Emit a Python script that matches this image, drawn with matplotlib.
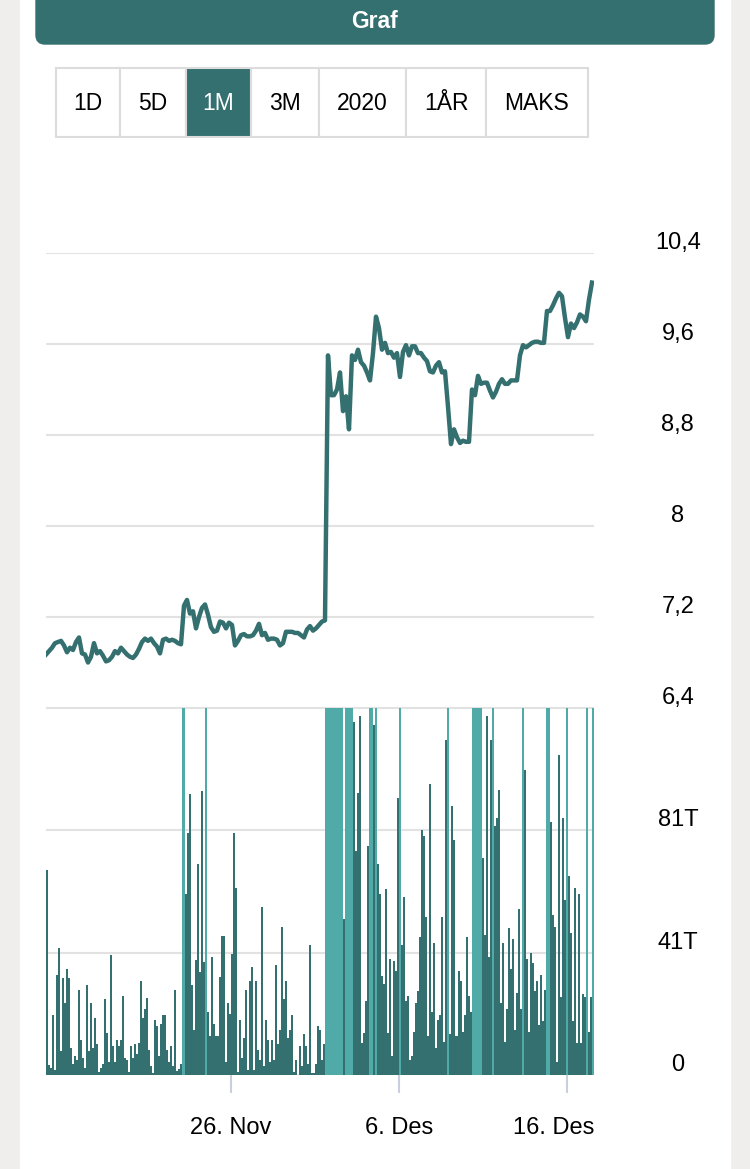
import matplotlib.pyplot as plt
from matplotlib.patches import Rectangle, FancyBboxPatch
from matplotlib import transforms
import numpy as np
import pandas as pd

plt.rcParams['font.family'] = ['Liberation Sans', 'DejaVu Sans']

dark = "#33706f"
light = "#4faaa8"
grid_col = "#e2e2e2"

periods = ["1D", "5D", "1M", "3M", "2020", "1ÅR", "MAKS"]
selected = "1M"

start = pd.Timestamp("2020-11-15")
span_days = 32.62     # visible range
price_days = 32.5     # first to last quote

prices = [
    6.87, 6.90, 6.93, 6.97, 6.98, 6.99, 6.95, 6.89, 6.93, 6.91,
    6.98, 7.02, 6.88, 6.87, 6.80, 6.85, 6.97, 6.88, 6.90, 6.86,
    6.81, 6.82, 6.85, 6.90, 6.88, 6.93, 6.90, 6.87, 6.85, 6.84,
    6.87, 6.92, 6.98, 7.01, 6.99, 7.01, 6.97, 6.94, 6.88, 7.00,
    7.01, 6.99, 7.00, 6.99, 6.97, 6.96, 7.30, 7.35, 7.23, 7.25,
    7.10, 7.20, 7.28, 7.31, 7.22, 7.11, 7.07, 7.08, 7.16, 7.15,
    7.10, 7.15, 7.13, 6.95, 6.99, 7.04, 7.05, 7.03, 7.03, 7.04,
    7.08, 7.14, 7.04, 7.06, 7.00, 7.01, 7.01, 7.00, 6.95, 6.97,
    7.07, 7.07, 7.07, 7.06, 7.06, 7.04, 7.02, 7.09, 7.12, 7.08,
    7.10, 7.13, 7.16, 7.17, 9.50, 9.15, 9.15, 9.20, 9.35, 9.01,
    9.14, 8.85, 9.50, 9.46, 9.55, 9.44, 9.41, 9.35, 9.28, 9.52,
    9.84, 9.74, 9.55, 9.61, 9.52, 9.53, 9.48, 9.52, 9.31, 9.53,
    9.59, 9.50, 9.58, 9.58, 9.52, 9.52, 9.48, 9.45, 9.36, 9.35,
    9.41, 9.44, 9.35, 9.36, 9.05, 8.72, 8.85, 8.78, 8.73, 8.75,
    8.74, 8.74, 9.20, 9.15, 9.32, 9.25, 9.26, 9.26, 9.19, 9.13,
    9.18, 9.25, 9.29, 9.25, 9.25, 9.28, 9.28, 9.28, 9.50, 9.59,
    9.57, 9.59, 9.61, 9.62, 9.62, 9.61, 9.61, 9.89, 9.89, 9.94,
    10.00, 10.05, 10.02, 9.83, 9.66, 9.78, 9.74, 9.79, 9.86, 9.84,
    9.80, 9.99, 10.14,
]

# volume in thousands (T); bars above the axis top are drawn in the light colour
volume = [
    68, 3.3, 2.2, 19.7, 1.7, 33, 42, 7.8, 32, 23.7,
    35, 32, 8.9, 3.7, 6.3, 5, 28, 11.7, 5.6, 2.2,
    29.7, 7.8, 24, 8.9, 19, 10.3, 1.1, 2.2, 3.7, 25,
    13.9, 4.4, 39.7, 9.7, 4.4, 11.7, 9.7, 11.7, 26, 5.6,
    5, 1.1, 9.7, 5.6, 10.3,
    7, 10.5, 31, 19, 21.7, 25.5, 8.3, 3, 0.5, 18.3,
    16.3, 6.3, 17, 20, 19.7, 8.3, 4.4, 9.7, 3, 28,
    1.4, 1.9, 3.7, 150, 60, 80, 93, 29.7, 15, 38,
    70, 34, 94, 37.4, 140, 21, 13, 39, 17, 13,
    13, 32.5, 46, 46, 4.4, 23.7,
    20.3, 40, 80, 62, 1.1, 18.3, 5.6, 12.2, 28, 1.7,
    31, 35.8, 1.7, 31, 8.3, 5, 55.6, 3, 18.3, 11.7,
    4.4, 11.7, 5, 36.4, 10.3, 15, 49, 25, 31, 12.2,
    15, 19.7, 1.1, 5, 0, 9.7, 3, 13.7, 9.7, 3.7,
    43, 0.5, 0.8, 3.7, 16.3, 15,
    5, 10.3, 180, 250, 210, 190, 230, 170, 200, 160,
    150, 51.7, 170, 190, 160, 140, 117, 74, 93.5, 119,
    10.5, 13.9, 24.4, 75.8, 150, 130, 116, 140, 70, 60,
    32.8, 30, 61.7, 13.9, 38.3, 6.3, 37.8, 34.4, 91.7, 135,
    43, 59, 24.4, 26, 5, 6.3,
    14.4, 23.7, 27.8, 45.8, 81, 79, 52.4, 13, 96.3, 21,
    43.7, 8.9, 18.3, 19.7, 52.4, 11, 111, 145, 13.7, 89,
    77.8, 13, 34.4, 31, 14.4, 19.7, 45.8, 26, 21, 160,
    190, 210, 170, 150, 72, 46.4, 119, 39, 111, 140,
    82.4, 85, 94.4, 23.7, 43.7, 11,
    22, 48.6, 35, 45, 15, 27, 55, 21.7, 135, 101,
    38.3, 14.4, 40.3, 37, 27.8, 31, 16.7, 33, 17.8, 28,
    150, 160, 83.7, 53, 49, 4.4, 106, 25.8, 85, 57.8,
    130, 66, 47, 17.8, 62, 10.5, 60, 10.5, 26.7, 25.8,
    140, 14.4, 25.8, 130,
]

price_ticks = [10.4, 9.6, 8.8, 8.0, 7.2, 6.4]
price_labels = ["10,4", "9,6", "8,8", "8", "7,2", "6,4"]
vol_max = 121.5
vol_ticks = [81, 40.5, 0]
vol_labels = ["81T", "41T", "0"]
date_ticks = ["2020-11-26", "2020-12-06", "2020-12-16"]
date_labels = ["26. Nov", "6. Des", "16. Des"]


def px(x, y, w, h):
    return [x / 750, 1 - (y + h) / 1169, w / 750, h / 1169]


fig = plt.figure(figsize=(7.5, 11.69), dpi=100, facecolor="#efeeec")

# page background, header and period buttons
bg = fig.add_axes([0, 0, 1, 1])
bg.set_xlim(0, 750)
bg.set_ylim(1169, 0)
bg.axis("off")
bg.add_patch(Rectangle((20, 0), 710, 1169, color="white"))
bg.add_patch(FancyBboxPatch((36, -30), 678, 74, boxstyle="round,pad=0,rounding_size=9",
                            color=dark))
bg.text(375, 22, "Graf", color="white", fontsize=16.5, fontweight="bold",
        ha="center", va="center")

edges = [56, 120, 186, 251, 319, 406, 486, 588]
for i, p in enumerate(periods):
    x0, x1 = edges[i], edges[i + 1]
    on = p == selected
    bg.add_patch(Rectangle((x0, 68), x1 - x0, 69, facecolor=dark if on else "white",
                           edgecolor="#dcdcdc", lw=1.5))
    bg.text((x0 + x1) / 2, 103, p, color="white" if on else "black", fontsize=16.5,
            ha="center", va="center")

xlim = (start, start + pd.Timedelta(days=span_days))

# price line
ax = fig.add_axes(px(46, 253, 548, 455))
ax.patch.set_alpha(0)
times = start + pd.to_timedelta(np.linspace(0, price_days, len(prices)), unit="D")
ax.plot(times, prices, color=dark, lw=3.2, solid_joinstyle="round", zorder=3)
ax.set_xlim(*xlim)
ax.set_ylim(6.4, 10.4)
ax.set_yticks(price_ticks)
ax.yaxis.grid(True, color=grid_col, lw=1.5)
ax.set_axisbelow(True)
ax.tick_params(left=False, labelleft=False, bottom=False, labelbottom=False)
for s in ax.spines.values():
    s.set_visible(False)
lab_tr = transforms.offset_copy(transforms.blended_transform_factory(ax.transAxes, ax.transData),
                                fig=fig, y=10, units="dots")
for v, lab in zip(price_ticks, price_labels):
    ax.text(1.153, v, lab, transform=lab_tr, ha="center", va="center", fontsize=17)

# volume bars
vx = fig.add_axes(px(46, 708, 548, 367))
vx.patch.set_alpha(0)
n = len(volume)
w = span_days / n
bx = start + pd.to_timedelta((np.arange(n) + 0.5) * w, unit="D")
cols = [light if v > vol_max else dark for v in volume]
vx.bar(bx, volume, width=w, color=cols, linewidth=0, align="center", zorder=2)
vx.set_xlim(*xlim)
vx.set_ylim(0, vol_max)
vx.set_yticks([0, 40.5, 81, vol_max])
vx.yaxis.grid(True, color=grid_col, lw=1.5)
vx.set_axisbelow(True)
vx.tick_params(left=False, labelleft=False)
for s in vx.spines.values():
    s.set_visible(False)
vx.set_xticks(pd.to_datetime(date_ticks))
# the last date label is pulled in so it ends at the right edge of the plot
vx.set_xticklabels(date_labels[:-1] + [""], fontsize=17)
vx.tick_params(axis="x", length=13, width=1.5, color="#c9cee0", pad=17)
last_tr = transforms.offset_copy(vx.transAxes, fig=fig, y=-30, units="points")
vx.text(1.0, 0, date_labels[-1], transform=last_tr, ha="right", va="top", fontsize=17)
vol_tr = transforms.offset_copy(transforms.blended_transform_factory(vx.transAxes, vx.transData),
                                fig=fig, y=10, units="dots")
for v, lab in zip(vol_ticks, vol_labels):
    vx.text(1.153, v, lab, transform=vol_tr, ha="center", va="center", fontsize=17)

fig.savefig("out.png", dpi=100, facecolor=fig.get_facecolor())
